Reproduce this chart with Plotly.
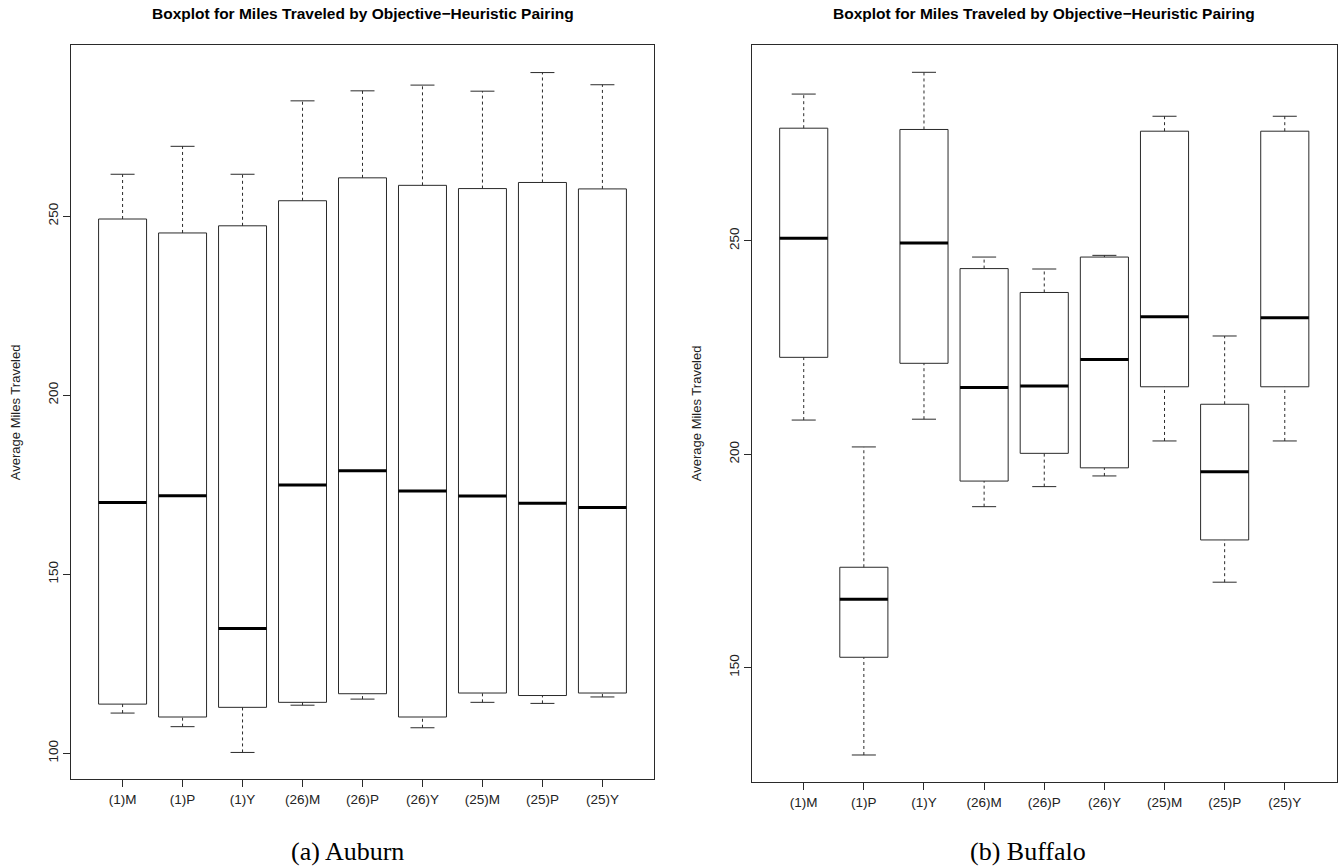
import plotly.graph_objects as go

categories = ["(1)M", "(1)P", "(1)Y", "(26)M", "(26)P", "(26)Y", "(25)M", "(25)P", "(25)Y"]

auburn_lower = [111.2, 107.4, 100.2, 113.4, 115.1, 107.1, 114.2, 113.9, 115.7]
auburn_q1 = [113.7, 110.1, 112.8, 114.2, 116.6, 110.1, 116.8, 116.1, 116.8]
auburn_median = [170.0, 171.9, 134.8, 174.9, 178.9, 173.2, 171.8, 169.8, 168.6]
auburn_q3 = [249.2, 245.3, 247.3, 254.3, 260.7, 258.6, 257.7, 259.4, 257.6]
auburn_upper = [261.7, 269.5, 261.7, 282.2, 285.0, 286.6, 284.9, 290.1, 286.7]

buffalo_lower = [208.0, 129.5, 208.2, 187.7, 192.4, 194.9, 203.1, 170.0, 203.1]
buffalo_q1 = [222.7, 152.4, 221.3, 193.7, 200.2, 196.8, 215.8, 179.9, 215.8]
buffalo_median = [250.6, 166.0, 249.5, 215.6, 216.0, 222.2, 232.2, 195.9, 232.0]
buffalo_q3 = [276.4, 173.5, 276.1, 243.5, 237.9, 246.2, 275.7, 211.7, 275.7]
buffalo_upper = [284.4, 201.7, 289.5, 246.2, 243.4, 246.6, 279.2, 227.7, 279.2]

auburn_ticks = [100, 150, 200, 250]
buffalo_ticks = [150, 200, 250]

TITLE = "Boxplot for Miles Traveled by Objective\u2212Heuristic Pairing"
YTITLE = "Average Miles Traveled"

BOX_HALF = 0.4
CAP_HALF = 0.2
LINE_COLOR = "#2a2a2a"

fig = go.Figure()


def add_boxplot(lower, q1, med, q3, upper, xa, ya):
    bx, by, mx, my, wx, wy, cx, cy = [], [], [], [], [], [], [], []
    for i in range(len(categories)):
        l, r = i - BOX_HALF, i + BOX_HALF
        bx += [l, r, r, l, l, None]
        by += [q1[i], q1[i], q3[i], q3[i], q1[i], None]
        mx += [l, r, None]
        my += [med[i], med[i], None]
        wx += [i, i, None, i, i, None]
        wy += [q3[i], upper[i], None, lower[i], q1[i], None]
        cx += [i - CAP_HALF, i + CAP_HALF, None, i - CAP_HALF, i + CAP_HALF, None]
        cy += [upper[i], upper[i], None, lower[i], lower[i], None]
    common = dict(mode="lines", xaxis=xa, yaxis=ya, showlegend=False, hoverinfo="skip")
    fig.add_trace(go.Scatter(x=wx, y=wy, line=dict(color=LINE_COLOR, width=1, dash="3px,3px"), **common))
    fig.add_trace(go.Scatter(x=cx, y=cy, line=dict(color=LINE_COLOR, width=1), **common))
    fig.add_trace(go.Scatter(x=bx, y=by, line=dict(color=LINE_COLOR, width=1), **common))
    fig.add_trace(go.Scatter(x=mx, y=my, line=dict(color="black", width=3), **common))


add_boxplot(auburn_lower, auburn_q1, auburn_median, auburn_q3, auburn_upper, "x", "y")
add_boxplot(buffalo_lower, buffalo_q1, buffalo_median, buffalo_q3, buffalo_upper, "x2", "y2")

W, H = 1338, 867
xrange_ = [-0.86, len(categories) - 1 + 0.86]

tick_font = dict(family="Liberation Sans, Arial, sans-serif", size=13.5, color="#222")
xcommon = dict(
    range=xrange_, tickmode="array", tickvals=list(range(len(categories))), ticktext=categories,
    showline=True, mirror=True, linecolor=LINE_COLOR, linewidth=1, ticks="outside", ticklen=7,
    tickcolor=LINE_COLOR, showgrid=False, zeroline=False, tickfont=tick_font,
)
ycommon = dict(
    showline=True, mirror=True, linecolor=LINE_COLOR, linewidth=1, ticks="outside", ticklen=7,
    tickcolor=LINE_COLOR, showgrid=False, zeroline=False, tickangle=-90, tickfont=tick_font,
)

left_dom = [71 / W, 654 / W]
right_dom = [752 / W, 1336.5 / W]
top = 1 - 45 / H

fig.update_layout(
    width=W, height=H, margin=dict(l=0, r=0, t=0, b=0),
    paper_bgcolor="white", plot_bgcolor="white",
    xaxis=dict(domain=left_dom, anchor="y", **xcommon),
    yaxis=dict(domain=[1 - 779.3 / H, top], anchor="x", range=[92.7, 297.8],
               tickvals=auburn_ticks, **ycommon),
    xaxis2=dict(domain=right_dom, anchor="y2", **xcommon),
    yaxis2=dict(domain=[1 - 782.3 / H, top], anchor="x2", range=[123.1, 295.9],
                tickvals=buffalo_ticks, **ycommon),
)

title_font = dict(family="Liberation Sans, Arial, sans-serif", size=15.5, color="black")
ytitle_font = dict(family="Liberation Sans, Arial, sans-serif", size=13, color="#222")
cap_font = dict(family="Liberation Serif, Times New Roman, serif", size=26, color="black")

ann = []
for dom, ydom_bottom, ytx in [(left_dom, 779.3, 15), (right_dom, 782.3, 696.5)]:
    cx = (dom[0] + dom[1]) / 2
    ann.append(dict(text="<b>" + TITLE + "</b>", x=cx, y=1 - 14 / H, xref="paper", yref="paper",
                    showarrow=False, font=title_font, xanchor="center", yanchor="middle"))
    ann.append(dict(text=YTITLE, x=ytx / W, y=1 - ((45 + ydom_bottom) / 2) / H, xref="paper",
                    yref="paper", showarrow=False, font=ytitle_font, textangle=-90,
                    xanchor="center", yanchor="middle"))
ann.append(dict(text="(a) Auburn", x=347 / W, y=1 - 851 / H, xref="paper", yref="paper",
                showarrow=False, font=cap_font, xanchor="center", yanchor="middle"))
ann.append(dict(text="(b) Buffalo", x=1028 / W, y=1 - 851 / H, xref="paper", yref="paper",
                showarrow=False, font=cap_font, xanchor="center", yanchor="middle"))
fig.update_layout(annotations=ann)

fig.write_html("out.html")
